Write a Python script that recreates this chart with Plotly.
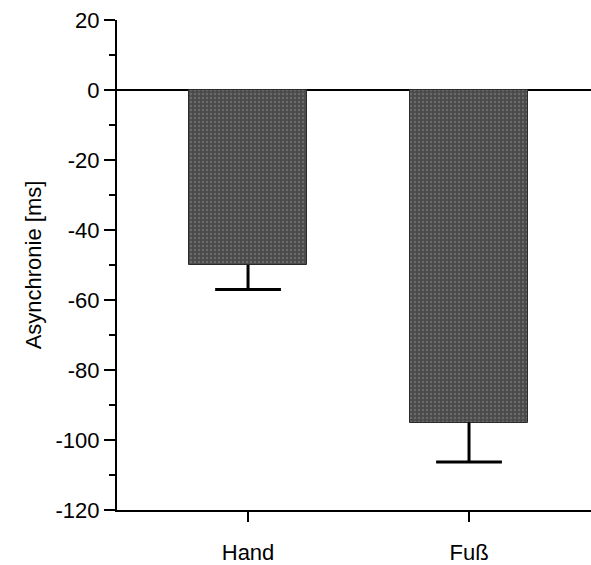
import plotly.graph_objects as go

categories = ["Hand", "Fuß"]
means = [-50, -95]
errors_down = [7, 11.3]
y_ticks = [20, 0, -20, -40, -60, -80, -100, -120]

x_pos = list(range(len(categories)))
cap_y = [m - e for m, e in zip(means, errors_down)]

fig = go.Figure()
fig.add_trace(go.Bar(
    x=x_pos, y=means, width=0.53,
    marker=dict(color="#5a5a5a", line=dict(color="#2a2a2a", width=1),
                pattern=dict(shape=".", fgcolor="#8a8a8a", bgcolor="#4a4a4a", size=4, solidity=0.3)),
    error_y=dict(type="data", symmetric=False, array=[0] * len(means), arrayminus=errors_down,
                 color="black", thickness=3, width=0),
    showlegend=False,
))
# error bar caps
fig.add_trace(go.Scatter(
    x=x_pos, y=cap_y, mode="markers",
    marker=dict(symbol="line-ew", size=47, line=dict(color="black", width=3)),
    showlegend=False, hoverinfo="skip",
))

font = "Liberation Sans, Arial, Helvetica, sans-serif"
fig.update_layout(
    width=591, height=565,
    margin=dict(l=117, r=0, t=20, b=55),
    paper_bgcolor="white", plot_bgcolor="white",
    font=dict(family=font, color="black", size=20),
    bargap=0,
    xaxis=dict(
        range=[-0.593, 1.552], tickvals=x_pos, ticktext=categories,
        showline=True, linecolor="black", linewidth=2,
        ticks="outside", ticklen=10, tickwidth=2, tickcolor="black",
        showgrid=False, zeroline=False, ticklabelstandoff=12,
        tickfont=dict(size=22),
    ),
    yaxis=dict(
        range=[-120, 20], tickvals=y_ticks, ticktext=[str(v) for v in y_ticks],
        showline=True, linecolor="black", linewidth=2,
        ticks="outside", ticklen=11, tickwidth=2, tickcolor="black",
        minor=dict(dtick=10, ticks="outside", ticklen=6, tickwidth=2, tickcolor="black"),
        showgrid=False, zeroline=True, zerolinecolor="black", zerolinewidth=2,
        tickfont=dict(size=22),
        title=dict(text="Asynchronie [ms]", font=dict(size=22), standoff=8),
    ),
)

fig.write_html("out.html", config={"displayModeBar": False},
               post_script="document.body.style.margin='0';")
